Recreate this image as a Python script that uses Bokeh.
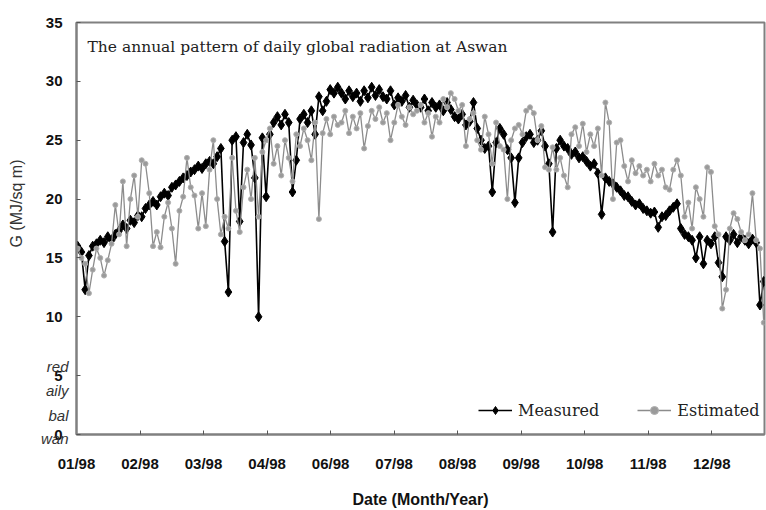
import math
from bokeh.plotting import figure
from bokeh.models import Range1d, FixedTicker, Label, Legend, LegendItem
from bokeh.core.properties import value
from bokeh.embed import file_html
from bokeh.resources import INLINE

# Daily global radiation (MJ/sq m), read every ~2 days across 1998
measured = [
    16, 15.5, 12.3, 15.2, 16, 16.2, 16.5, 16.3, 16.8, 16.5,
    17, 17.3, 17.8, 17.5, 18.2, 18, 18.6, 18.5, 19.2, 19.5,
    19.8, 19.5, 20.2, 20.5, 20.3, 21, 21.2, 21.5, 21.8, 22,
    22.3, 22.5, 22.8, 22.6, 23, 23.2, 23, 23.6, 24.3, 16.4,
    12.1, 25, 25.3, 18.1, 24.8, 25.5, 24.6, 21.8, 10, 25.2,
    20.2, 25.5, 26.5, 27, 26.3, 27.2, 26.5, 20.6, 23.3, 26.8,
    27.2, 26.5, 27.5, 25.5, 28.7, 27.5, 28.3, 29.3, 29, 29.5,
    29, 28.5, 29.2, 28.7, 29, 28.3, 29.2, 28.6, 29.5, 28.8,
    29.3, 28.7, 28.5, 29.2, 28, 28.6, 28.3, 28.8, 27.8, 28.4,
    28, 27.8, 28.5, 27.5, 28.2, 27.8, 28, 27.5, 28.2, 27.6,
    27, 26.8, 27.2, 26.3, 26.6, 28.2, 26, 25, 24.3, 24.5,
    20.6, 24.8, 26, 25.5, 24.2, 23.5, 19.7, 23.5, 24.8, 25.3,
    25.5, 24.8, 25, 25.8, 24.5, 23, 17.2, 24.3, 25, 24.5,
    24.3, 23.8, 24, 23.5, 23.6, 23.2, 22.8, 23, 22.2, 18.7,
    21.8, 21.5, 21.3, 21, 20.7, 20.3, 20.2, 19.8, 19.5, 19.6,
    19.2, 19, 18.8, 18.9, 17.6, 18.5, 18.6, 19, 19.3, 19.6,
    17.5, 17, 16.8, 16.5, 15, 16.8, 14.5, 16.5, 16.2, 16.8,
    14.6, 13.4, 16.8, 16.5, 17, 16.3, 16.8, 16.5, 16.2, 16.6,
    16.3, 11, 13,
]
estimated = [
    15.8, 15, 14.5, 12, 14, 15.8, 15, 13.5, 14.8, 16.2,
    19.5, 17, 21.5, 16, 20, 22, 18.5, 23.3, 23, 20.5,
    16, 17.2, 15.9, 18.5, 19.7, 17.5, 14.5, 19, 20.2, 23.5,
    21, 20.3, 17.5, 20.5, 17.7, 22.5, 25, 20, 17, 18.5,
    17.5, 23.5, 19, 17.2, 21, 22.5, 20, 23.5, 18.5, 24,
    25, 26, 23, 24.5, 22, 25, 23.5, 21.5, 25.5, 24.5,
    26, 25, 23.3, 26.5, 18.3, 25.6, 26.8, 25.5, 27, 26.3,
    26.5, 27.5, 25.6, 27, 26, 27.3, 24.3, 26.2, 27.5, 26.8,
    27.8, 26.5, 27.3, 25, 26.5, 28, 27, 26.3, 27.8, 27.2,
    27.5, 28, 26.5, 27.3, 25.3, 27, 26.5, 28.5, 27.8, 29,
    28.5, 27.5, 28, 24.5, 26.8, 27.3, 25, 24.2, 27, 25.5,
    23, 26.5, 24.5, 24.2, 20, 25, 26, 26.3, 25.5, 27.5,
    27.8, 27.3, 25, 26.2, 22.7, 22.5, 24.4, 22.5, 23.5, 22,
    21, 25.5, 26.1, 24.5, 26.4, 24, 25.5, 24.5, 26, 22,
    28.2, 26.5, 20, 24.8, 25, 22.8, 21.5, 23.3, 22.2, 22.8,
    22, 22.5, 21.5, 23, 22, 22.5, 21, 20.8, 22.5, 23.3,
    22, 18.5, 19.7, 17.5, 21, 20, 18.5, 22.7, 22.3, 17.7,
    17, 10.7, 12.3, 17.5, 18.8, 18.3, 17.2, 16.5, 17, 20.5,
    16.5, 15.8, 9.5,
]
tick_labels = ["01/98", "02/98", "03/98", "04/98", "06/98", "07/98",
               "08/98", "09/98", "10/98", "11/98", "12/98"]
y_ticks = [0, 5, 10, 15, 20, 25, 30, 35]
caption_lines = ["red", "aily", "bal", "wan"]
y_title = "G (MJ/sq m)"

x = list(range(len(measured)))

xr = Range1d(-0.3, 182.2)
yr = Range1d(0, 35)
p = figure(width=766, height=510, output_backend="svg", toolbar_location=None,
           x_range=xr, y_range=yr,
           min_border_left=76, min_border_right=2, min_border_top=22,
           min_border_bottom=74, background_fill_color="white",
           border_fill_color="white")

p.xgrid.visible = False
p.ygrid.visible = False
p.outline_line_color = "#808080"
p.outline_line_width = 2

step = 16.85
tick_pos = [round(-0.3 + step * k, 3) for k in range(len(tick_labels))]
p.xaxis.ticker = FixedTicker(ticks=tick_pos)
p.xaxis.major_label_overrides = {t: l for t, l in zip(tick_pos, tick_labels)}
p.yaxis.ticker = FixedTicker(ticks=y_ticks)

for ax in (p.xaxis[0], p.yaxis[0]):
    ax.axis_line_color = "#808080"
    ax.axis_line_width = 2
    ax.major_tick_in = 4
    ax.major_tick_out = 0
    ax.major_tick_line_color = "#555555"
    ax.minor_tick_line_color = None
    ax.major_label_text_font = "Liberation Sans"
    ax.major_label_text_font_style = "bold"
    ax.major_label_text_font_size = "15px"
    ax.major_label_text_color = "#111111"

p.xaxis.major_label_standoff = 20
p.yaxis.major_label_standoff = 14
p.xaxis.axis_label = "Date (Month/Year)"
p.xaxis.axis_label_text_font = "Liberation Sans"
p.xaxis.axis_label_text_font_style = "bold"
p.xaxis.axis_label_text_font_size = "16px"
p.xaxis.axis_label_text_color = "#111111"
p.xaxis.axis_label_standoff = 16

m_line = p.line(x, measured, line_color="black", line_width=1.6)
m_pts = p.scatter(x, measured, marker="diamond", size=10,
                  fill_color="black", line_color="black", line_width=1)
e_line = p.line(x, estimated, line_color="#8c8c8c", line_width=1.3)
e_pts = p.scatter(x, estimated, marker="circle", size=5, fill_color="#9a9a9a",
                  line_color="#b0b0b0", line_width=1)

legend = Legend(items=[LegendItem(label="Measured", renderers=[m_line, m_pts]),
                       LegendItem(label="Estimated", renderers=[e_line, e_pts])],
                location=(402, 14), orientation="horizontal",
                border_line_alpha=0, background_fill_alpha=0,
                padding=0, margin=0, spacing=38, glyph_width=34,
                label_standoff=6, label_text_font="DejaVu Serif",
                label_text_font_size="16px", label_text_color="#222222")
p.add_layout(legend)

p.add_layout(Label(x=11, y=388, x_units="screen", y_units="screen",
                   text="The annual pattern of daily global radiation at Aswan",
                   text_font="DejaVu Serif", text_font_size="15.5px",
                   text_color="#222222", text_baseline="middle"))

# texts outside the frame: anchored just inside the frame's lower-left
# corner and shifted in screen pixels (overlay level is not clipped)
px_per_x = 688 / (xr.end - xr.start)
px_per_y = 414 / (yr.end - yr.start)
ax0 = xr.start + 1
ay0 = yr.start + 0.5
shift_x = -1 * px_per_x
shift_y = 0.5 * px_per_y

n = len(caption_lines)
p.text([ax0] * n, [ay0] * n, text=caption_lines,
       x_offset=[-8 + shift_x] * n,
       y_offset=[v + shift_y for v in (-68, -44, -19, 4)],
       text_font=value("Liberation Sans"), text_font_style="italic",
       text_font_size="15px", text_color="#333333", text_align="right",
       text_baseline="middle", level="overlay")

# vertical axis title
p.text([ax0], [ay0], text=[y_title], x_offset=-60 + shift_x,
       y_offset=-231 + shift_y, angle=math.pi / 2,
       text_font=value("Liberation Sans"), text_font_size="16px",
       text_color="#333333", text_align="center", text_baseline="middle",
       level="overlay")

open("out.html", "w").write(file_html(p, INLINE))
